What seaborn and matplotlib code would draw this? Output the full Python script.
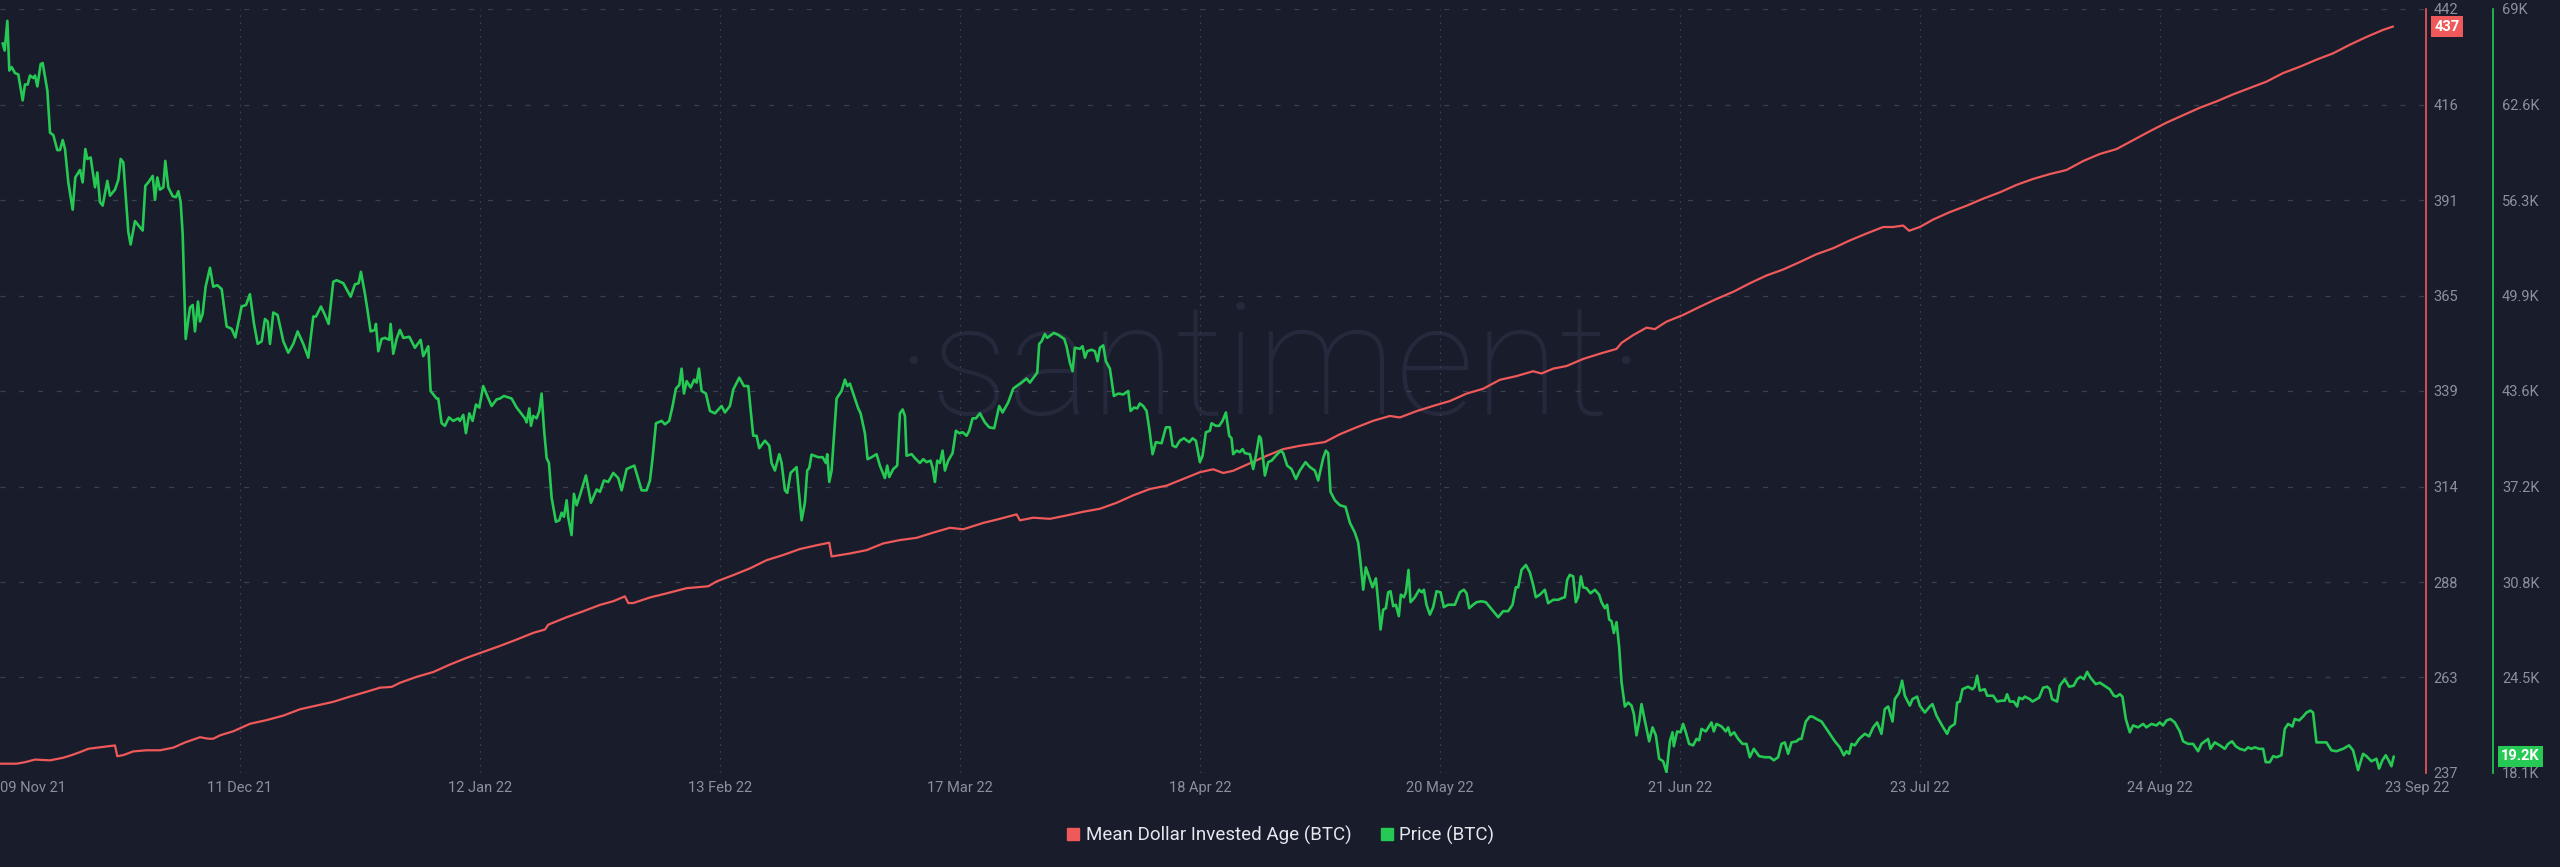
import numpy as np
import pandas as pd
import matplotlib
matplotlib.use("Agg")
import matplotlib.pyplot as plt
import seaborn as sns
from matplotlib.lines import Line2D

# ---------------- data ----------------
START = "2021-11-09"

price_day = [0.36, 0.62, 0.98, 1.24, 1.56, 2.0, 2.44, 3.02, 3.33, 3.69, 4.0, 4.44, 4.67, 4.98, 5.42, 5.69,
             6.31, 6.67, 7.11, 7.64, 8.0, 8.36, 8.67, 9.11, 9.69, 10.04, 10.67, 11.02, 11.38, 11.64, 12.09,
             12.67, 12.98, 13.33, 13.69, 14.31, 14.67, 15.33, 15.78, 16.09, 16.44, 17.11, 17.42, 18.0, 19.02,
             19.38, 19.78, 20.36, 20.67, 20.98, 21.33, 21.78, 22.04, 22.44, 23.02, 23.47, 23.78, 24.09, 24.36,
             24.76, 25.33, 25.69, 26.0, 26.4, 26.67, 27.02, 27.42, 28.0, 28.44, 28.98, 29.56, 30.22, 30.89,
             31.38, 32.22, 32.8, 33.33, 33.87, 34.36, 34.89, 35.33, 35.69, 36.0, 36.44, 37.02, 37.78, 38.44,
             39.11, 39.69, 40.44, 41.11, 41.78, 42.13, 42.8, 43.33, 43.82, 44.44, 44.89, 45.78, 46.76, 47.33,
             47.82, 48.13, 48.67, 48.98, 49.42, 50.0, 50.13, 50.44, 50.89, 51.33, 51.91, 52.09, 52.44, 52.89,
             53.33, 53.78, 54.58, 55.33, 56.09, 56.44, 57.11, 57.42, 58.22, 58.44, 58.89, 59.33, 59.87, 60.44,
             61.11, 61.33, 61.78, 62.13, 62.58, 63.02, 63.47, 63.91, 64.44, 64.98, 65.56, 66.22, 66.67, 67.2,
             68.22, 68.89, 70.0, 70.22, 70.58, 70.8, 71.11, 71.56, 71.91, 72.22, 72.53, 72.89, 73.2, 73.56,
             74.13, 74.58, 74.89, 75.2, 75.56, 75.78, 76.22, 76.53, 76.89, 77.33, 78.13, 78.8, 79.56, 80.0,
             80.53, 81.11, 81.78, 82.44, 82.89, 83.56, 84.58, 85.56, 86.22, 86.67, 87.02, 87.47, 88.22, 88.67,
             89.24, 89.69, 90.13, 90.58, 90.89, 91.2, 91.56, 92.09, 92.58, 92.89, 93.2, 93.56, 94.13, 94.67,
             95.33, 96.22, 96.67, 97.33, 97.78, 98.58, 99.2, 99.78, 100.44, 100.89, 101.24, 102.0, 102.58,
             102.89, 103.33, 103.91, 104.22, 104.67, 104.98, 105.42, 106.22, 106.44, 106.89, 107.33, 107.64,
             107.91, 108.22, 109.11, 109.69, 110.13, 110.31, 110.58, 110.89, 111.56, 112.22, 112.67, 112.98,
             113.33, 114.0, 114.44, 114.76, 115.33, 115.69, 116.22, 116.89, 117.33, 118.0, 118.31, 118.58,
             119.11, 119.64, 120.0, 120.36, 120.67, 120.89, 121.56, 122.0, 122.67, 123.11, 123.56, 124.09,
             124.36, 124.67, 124.98, 125.33, 125.69, 126.0, 126.44, 127.02, 127.47, 127.91, 128.36, 128.89,
             129.24, 129.69, 130.13, 130.67, 131.33, 131.91, 132.58, 133.24, 133.69, 134.44, 135.11, 135.56,
             136.22, 136.89, 137.33, 138.31, 138.58, 138.89, 139.33, 139.64, 140.53, 141.11, 141.91, 142.22,
             142.67, 143.02, 143.33, 144.0, 144.36, 144.67, 144.98, 145.56, 146.0, 146.36, 146.67, 147.11,
             147.47, 148.0, 148.53, 149.11, 149.78, 150.44, 150.76, 151.24, 151.64, 152.0, 152.44, 152.89,
             153.24, 153.69, 154.13, 154.89, 155.47, 156.0, 156.36, 156.8, 157.33, 157.87, 158.58, 159.02,
             159.47, 160.0, 160.36, 160.8, 161.33, 161.56, 162.13, 162.58, 163.02, 163.47, 163.91, 164.22,
             164.44, 164.89, 165.33, 165.69, 166.0, 166.67, 167.11, 167.47, 167.91, 168.13, 168.67, 169.11,
             169.56, 170.13, 170.8, 171.11, 171.64, 172.22, 172.8, 173.33, 174.09, 174.67, 175.33, 175.78,
             176.44, 176.8, 177.11, 177.42, 178.0, 178.67, 179.42, 180.0, 180.67, 181.11, 181.42, 181.78,
             182.13, 182.58, 183.02, 183.47, 183.78, 184.09, 184.44, 184.8, 185.11, 185.42, 185.78, 186.13,
             186.53, 186.8, 187.2, 187.47, 187.82, 188.09, 188.67, 189.24, 189.6, 189.87, 190.22, 190.67,
             191.11, 191.56, 192.09, 192.53, 193.11, 194.0, 194.67, 195.2, 195.56, 195.91, 196.44, 196.89,
             197.56, 198.13, 198.67, 199.11, 199.78, 200.44, 201.11, 201.69, 202.13, 202.44, 202.89, 203.47,
             204.0, 204.44, 204.8, 205.33, 206.0, 206.44, 207.11, 207.78, 208.22, 208.67, 208.98, 209.33,
             209.78, 210.13, 210.44, 210.8, 211.11, 211.56, 212.09, 212.67, 213.24, 213.56, 214.0, 214.31,
             214.58, 214.89, 215.2, 215.56, 215.91, 216.22, 216.67, 217.11, 217.56, 217.87, 218.22, 218.58,
             218.89, 219.33, 219.91, 220.36, 220.8, 221.24, 221.78, 222.22, 222.67, 223.02, 223.2, 223.64,
             224.09, 224.44, 224.8, 225.24, 225.78, 226.22, 226.58, 226.89, 227.47, 228.22, 228.53, 228.89,
             229.56, 230.13, 230.44, 230.76, 231.24, 231.78, 232.36, 232.89, 233.33, 233.87, 234.58, 235.33,
             236.0, 236.53, 237.11, 237.56, 238.0, 238.44, 238.89, 239.56, 239.91, 240.22, 240.8, 241.33,
             241.69, 242.22, 242.89, 243.56, 244.22, 244.67, 245.33, 245.87, 246.22, 246.58, 246.89, 247.33,
             247.91, 248.67, 249.24, 249.78, 250.31, 250.89, 251.33, 251.78, 252.36, 252.67, 253.24, 253.64,
             254.0, 254.67, 255.02, 255.64, 256.0, 256.67, 257.33, 257.69, 258.22, 258.67, 259.11, 259.64,
             260.0, 260.67, 260.98, 261.33, 261.69, 262.44, 263.02, 263.33, 263.64, 264.0, 264.67, 264.98,
             265.78, 266.31, 266.89, 267.33, 267.64, 268.0, 268.53, 268.98, 269.24, 269.69, 270.0, 270.67,
             271.02, 271.91, 272.44, 272.98, 273.33, 273.64, 274.31, 274.67, 275.33, 275.91, 276.53, 276.98,
             277.42, 277.87, 278.31, 278.76, 279.47, 280.0, 280.8, 281.33, 281.87, 282.22, 282.67, 283.02,
             283.47, 284.0, 284.44, 285.11, 285.78, 286.22, 286.89, 287.56, 288.0, 288.44, 288.89, 289.42,
             290.0, 290.67, 291.11, 291.78, 292.44, 293.11, 293.56, 294.44, 294.76, 295.33, 296.0, 296.67,
             297.11, 297.64, 298.13, 298.67, 299.33, 299.78, 300.22, 300.67, 301.24, 301.78, 302.13, 302.67,
             303.11, 303.56, 304.22, 304.67, 305.11, 305.69, 306.0, 306.58, 307.11, 307.56, 308.09, 308.44,
             308.89, 309.56, 310.22, 310.89, 311.56, 312.44, 313.24, 313.78, 314.44, 315.11, 315.56, 316.22,
             316.89, 317.24, 317.69, 318.13, 318.58, 318.89, 319.2]

price_k = [66.72, 66.23, 68.21, 64.9, 65.13, 64.73, 64.64, 62.91, 63.97, 63.97, 64.57, 64.4, 64.57, 63.84, 65.33,
           65.4, 63.58, 60.76, 60.6, 59.6, 59.6, 60.27, 59.67, 57.45, 55.63, 57.78, 58.28, 57.45, 59.67, 59.01,
           59.11, 57.12, 58.11, 56.13, 55.9, 57.55, 56.56, 56.96, 57.62, 59.01, 58.78, 54.14, 53.31, 54.87,
           54.24, 57.22, 57.45, 57.88, 56.29, 57.78, 56.96, 57.12, 58.88, 57.12, 56.53, 56.46, 56.86, 56.13,
           53.98, 47.02, 49.11, 49.28, 47.52, 49.51, 48.18, 48.68, 50.5, 51.76, 50.5, 50.6, 50.34, 47.85, 47.69,
           47.12, 49.18, 49.28, 50.0, 48.02, 46.69, 46.86, 48.35, 48.18, 46.69, 48.78, 48.61, 46.86, 46.1,
           46.69, 47.52, 46.69, 45.77, 48.51, 48.51, 49.18, 48.61, 48.02, 50.83, 50.93, 50.73, 49.83, 50.66,
           50.73, 51.49, 50.0, 49.01, 47.52, 47.62, 48.02, 46.2, 47.02, 47.09, 46.96, 48.02, 46.03, 47.02,
           47.62, 47.09, 47.16, 46.43, 46.96, 45.87, 46.53, 43.55, 43.05, 43.05, 41.4, 41.23, 41.79, 41.56,
           41.73, 41.56, 41.96, 40.74, 42.06, 41.56, 42.65, 42.45, 43.88, 43.22, 42.55, 42.99, 43.05, 43.22,
           43.05, 42.45, 41.73, 41.46, 42.39, 41.23, 41.89, 41.73, 42.22, 43.38, 41.07, 39.08, 38.75, 36.43,
           34.84, 34.94, 35.44, 35.17, 36.27, 35.11, 33.95, 36.7, 35.94, 36.6, 37.92, 36.1, 36.99, 36.83,
           37.59, 37.49, 38.09, 37.75, 36.93, 38.35, 38.58, 36.93, 36.93, 37.59, 39.08, 41.4, 41.56, 41.33,
           41.56, 42.55, 43.71, 43.95, 45.04, 43.38, 44.21, 43.78, 44.31, 44.11, 45.04, 43.55, 43.38, 42.22,
           42.06, 42.55, 42.12, 42.55, 43.65, 44.44, 43.88, 43.88, 40.57, 40.57, 39.74, 40.24, 39.91, 38.75,
           38.25, 39.34, 38.75, 36.93, 36.76, 38.09, 38.48, 37.26, 34.94, 36.1, 38.25, 38.42, 39.31, 39.14,
           39.14, 38.75, 39.34, 37.49, 38.25, 43.05, 43.55, 44.31, 43.88, 44.04, 43.05, 42.39, 42.06, 40.74,
           39.01, 39.14, 39.34, 38.58, 37.75, 38.58, 37.82, 38.35, 38.58, 42.06, 42.32, 41.89, 39.24, 39.34,
           39.08, 38.75, 39.01, 38.81, 38.91, 38.42, 37.49, 38.91, 38.75, 39.58, 38.25, 38.91, 39.41, 40.9,
           40.74, 40.8, 40.57, 40.9, 41.73, 41.73, 42.06, 41.46, 41.13, 41.07, 42.55, 42.12, 42.79, 43.71,
           43.88, 44.11, 44.38, 44.11, 44.77, 46.69, 46.86, 47.35, 47.09, 47.42, 47.29, 47.02, 46.53, 45.43,
           44.87, 46.43, 46.36, 46.53, 45.77, 46.2, 46.3, 46.2, 45.53, 46.43, 46.59, 45.53, 45.04, 43.22,
           43.38, 43.32, 43.55, 42.22, 42.45, 42.39, 42.72, 42.55, 42.22, 41.07, 39.34, 40.14, 40.07, 41.13,
           41.13, 39.91, 39.81, 40.24, 40.4, 40.14, 40.4, 40.24, 38.81, 39.24, 40.8, 40.9, 41.4, 41.23, 41.23,
           41.56, 42.12, 40.57, 40.4, 39.34, 39.58, 39.48, 39.68, 39.41, 39.34, 38.35, 39.24, 40.54, 40.4,
           37.92, 38.81, 38.91, 39.24, 39.58, 39.41, 38.58, 38.35, 37.69, 38.25, 38.81, 38.48, 38.25, 37.59,
           39.08, 39.58, 39.41, 36.83, 36.27, 35.94, 35.83, 34.78, 34.11, 33.45, 32.13, 30.31, 31.8, 31.14,
           30.47, 31.07, 29.48, 27.66, 28.98, 29.08, 30.14, 30.21, 29.21, 29.31, 28.55, 29.98, 29.81, 30.14,
           31.63, 29.48, 29.81, 30.31, 30.14, 30.31, 29.31, 28.65, 29.15, 30.21, 30.14, 29.15, 29.31, 29.31,
           30.14, 30.31, 30.07, 29.08, 29.31, 29.48, 29.54, 29.48, 29.15, 28.88, 28.48, 28.88, 28.88, 29.31,
           30.47, 30.47, 31.63, 31.96, 31.46, 30.64, 29.81, 29.98, 30.31, 29.41, 29.64, 29.64, 29.74, 29.81,
           30.97, 31.3, 31.2, 29.48, 29.81, 31.2, 30.47, 30.41, 30.07, 30.31, 29.98, 29.48, 29.08, 29.31,
           28.32, 28.22, 27.43, 28.15, 26.5, 24.18, 22.53, 22.79, 22.59, 22.03, 20.61, 21.54, 22.69, 21.6,
           20.21, 21.14, 20.61, 19.05, 18.88, 18.16, 20.21, 20.81, 19.88, 20.87, 20.81, 21.37, 20.81, 20.04,
           19.94, 20.37, 20.28, 21.04, 20.87, 21.47, 20.87, 21.37, 21.2, 20.87, 21.14, 20.61, 20.81, 20.37,
           20.04, 20.04, 19.15, 19.71, 19.22, 19.15, 19.15, 18.95, 19.15, 20.04, 20.14, 19.38, 20.14, 20.21,
           20.37, 20.37, 21.53, 21.86, 21.86, 21.7, 21.53, 21.04, 20.54, 20.21, 19.81, 19.28, 19.55, 19.38,
           20.04, 19.94, 20.37, 20.71, 20.54, 21.14, 21.47, 20.71, 22.36, 22.53, 21.53, 23.02, 23.45, 24.25,
           23.25, 22.59, 23.02, 23.19, 22.59, 22.13, 22.53, 22.69, 21.93, 21.53, 21.14, 20.71, 21.14, 21.37,
           22.79, 22.86, 23.68, 23.85, 23.68, 23.85, 24.58, 23.59, 23.68, 23.25, 23.25, 22.86, 22.92, 22.92,
           23.35, 22.86, 22.86, 22.53, 23.12, 23.02, 23.19, 23.02, 22.86, 23.12, 23.78, 23.85, 23.68, 23.02,
           22.86, 23.92, 24.35, 23.85, 23.92, 24.35, 24.51, 24.35, 24.84, 24.45, 24.02, 24.12, 23.85, 23.68,
           23.25, 23.19, 23.35, 23.19, 21.7, 20.81, 21.27, 21.14, 21.37, 21.14, 21.37, 21.27, 21.47, 21.27,
           21.6, 21.7, 21.47, 20.87, 20.21, 20.04, 20.04, 19.55, 20.04, 20.37, 19.71, 20.14, 19.94, 19.71,
           20.04, 20.21, 19.88, 19.71, 19.61, 19.81, 19.71, 19.81, 19.71, 19.71, 18.82, 18.82, 19.22, 19.15,
           19.28, 21.04, 21.37, 21.2, 21.7, 21.6, 21.86, 22.13, 22.26, 22.13, 20.14, 20.14, 20.14, 19.61,
           19.55, 19.71, 19.94, 19.61, 18.29, 19.38, 19.22, 18.88, 19.05, 18.39, 18.95, 19.28, 18.88, 18.55,
           19.2]

mdia_day = [0.0, 2.22, 3.33, 4.67, 6.67, 8.44, 9.56, 10.67, 11.78, 13.33, 15.33, 15.64, 16.44, 17.78, 19.56,
            21.33, 23.11, 24.67, 26.67, 27.78, 28.44, 29.33, 31.11, 33.33, 35.56, 37.78, 40.0, 42.22, 44.44,
            46.67, 48.89, 50.67, 52.22, 53.33, 55.56, 57.78, 60.0, 62.22, 64.44, 66.67, 68.89, 71.11, 72.67,
            73.11, 75.56, 77.78, 80.0, 81.78, 83.33, 83.78, 84.44, 86.67, 88.89, 91.56, 94.44, 95.56, 97.78,
            100.0, 102.22, 104.44, 106.67, 108.89, 110.58, 110.89, 113.33, 115.56, 117.78, 120.0, 122.22,
            124.44, 126.67, 128.44, 131.11, 133.33, 135.56, 136.0, 137.78, 140.0, 142.22, 144.44, 146.67,
            148.89, 151.11, 153.33, 155.56, 157.78, 160.0, 161.78, 163.11, 164.44, 166.67, 168.89, 171.11,
            173.33, 176.67, 178.67, 180.89, 183.11, 185.33, 186.67, 188.89, 191.11, 193.33, 195.56, 197.78,
            200.0, 202.22, 204.44, 205.56, 207.11, 208.89, 211.11, 213.33, 215.56, 216.22, 217.78, 219.56,
            220.67, 222.22, 224.44, 226.67, 228.89, 231.11, 233.33, 235.56, 237.78, 240.0, 242.22, 244.44,
            246.67, 248.89, 251.11, 252.44, 253.78, 254.58, 256.0, 257.78, 260.0, 262.22, 264.44, 266.67,
            268.89, 271.11, 273.33, 275.56, 277.78, 280.0, 282.22, 284.44, 286.67, 288.89, 291.11, 293.33,
            295.56, 297.78, 300.0, 302.22, 304.44, 306.67, 308.89, 311.11, 313.33, 315.56, 317.78, 319.11]

mdia_val = [239.5, 239.5, 239.9, 240.6, 240.4, 241.1, 241.8, 242.6, 243.5, 243.9, 244.4, 241.5, 241.8, 242.8,
            243.1, 243.1, 243.8, 245.2, 246.6, 246.2, 246.2, 247.1, 248.2, 250.2, 251.2, 252.4, 254.1, 255.1,
            256.1, 257.5, 258.8, 259.9, 260.1, 261.2, 262.8, 264.1, 266.1, 267.9, 269.5, 271.1, 272.8, 274.6,
            275.5, 276.8, 278.8, 280.4, 282.1, 283.1, 284.4, 282.6, 282.6, 284.1, 285.2, 286.6, 287.1, 288.4,
            290.1, 291.9, 294.1, 295.5, 297.1, 298.1, 298.8, 295.1, 295.9, 296.8, 298.6, 299.5, 300.1, 301.5,
            302.8, 302.4, 304.1, 305.2, 306.4, 304.8, 305.5, 305.2, 306.1, 307.1, 307.9, 309.5, 311.5, 313.2,
            314.1, 315.9, 317.7, 318.5, 317.5, 318.1, 320.1, 322.1, 323.9, 324.8, 325.8, 327.9, 329.75, 331.5,
            332.8, 332.4, 334.1, 335.5, 336.8, 338.8, 340.1, 342.5, 343.5, 344.8, 344.2, 345.5, 346.2, 348.1,
            349.5, 350.8, 352.4, 354.5, 356.5, 356.1, 358.1, 359.9, 362.1, 364.2, 366.1, 368.4, 370.5, 372.1,
            374.1, 376.2, 377.8, 379.9, 381.75, 383.5, 383.5, 383.9, 382.5, 383.5, 385.5, 387.5, 389.2, 391.1,
            392.8, 394.8, 396.4, 397.7, 398.8, 401.2, 403.1, 404.4, 406.8, 409.2, 411.5, 413.5, 415.5, 417.2,
            419.1, 420.8, 422.5, 424.8, 426.5, 428.4, 430.1, 432.4, 434.5, 436.4, 437.3]

tick_dates = ["2021-11-09", "2021-12-11", "2022-01-12", "2022-02-13", "2022-03-17", "2022-04-18",
              "2022-05-20", "2022-06-21", "2022-07-23", "2022-08-24", "2022-09-23"]
tick_labels = ["09 Nov 21", "11 Dec 21", "12 Jan 22", "13 Feb 22", "17 Mar 22", "18 Apr 22",
               "20 May 22", "21 Jun 22", "23 Jul 22", "24 Aug 22", "23 Sep 22"]
mdia_range = [237, 442]
mdia_tick_labels = ["237", "263", "288", "314", "339", "365", "391", "416", "442"]
price_range = [18.1, 69.0]
price_tick_labels = ["18.1K", "24.5K", "30.8K", "37.2K", "43.6K", "49.9K", "56.3K", "62.6K", "69K"]
series_names = ["Mean Dollar Invested Age (BTC)", "Price (BTC)"]

# ---------------- style ----------------
BG = "#191c2b"
GRID = "#3a3f52"
TICK = "#8b90a0"
RED = "#ef5959"
GREEN = "#26c953"

sns.set_theme(style="dark")
plt.rcParams["font.family"] = ["Roboto", "DejaVu Sans"]

start = pd.Timestamp(START)
df_price = pd.DataFrame({"date": start + pd.to_timedelta(np.array(price_day), unit="D"),
                         "value": price_k})
df_mdia = pd.DataFrame({"date": start + pd.to_timedelta(np.array(mdia_day), unit="D"),
                        "value": mdia_val})

W, H = 2560, 867
fig = plt.figure(figsize=(W / 100, H / 100), dpi=100, facecolor=BG)
ax_left, ax_right, ax_top, ax_bottom = 0, 2426, 9, 773
ax = fig.add_axes([ax_left / W, 1 - ax_bottom / H, (ax_right - ax_left) / W, (ax_bottom - ax_top) / H])
ax.set_facecolor(BG)
ax2 = ax.twinx()

sns.lineplot(data=df_mdia, x="date", y="value", ax=ax, color=RED, linewidth=1.6, estimator=None, sort=True)
sns.lineplot(data=df_price, x="date", y="value", ax=ax2, color=GREEN, linewidth=1.9, estimator=None, sort=True)

for a in (ax, ax2):
    a.set_xlabel("")
    a.set_ylabel("")
    for s in a.spines.values():
        s.set_visible(False)

ax.set_xlim(start, start + pd.Timedelta(days=323.5))
ax.set_ylim(*mdia_range)
ax2.set_ylim(*price_range)

# y axes
ax.yaxis.tick_right()
ax.set_yticks(np.linspace(mdia_range[0], mdia_range[1], len(mdia_tick_labels)))
ax.set_yticklabels(mdia_tick_labels)
ax2.set_yticks(np.linspace(price_range[0], price_range[1], len(price_tick_labels)))
ax2.set_yticklabels(price_tick_labels)
ax.spines["right"].set_visible(True)
ax.spines["right"].set_color(RED)
ax.spines["right"].set_linewidth(1.2)
ax2.spines["right"].set_visible(True)
ax2.spines["right"].set_color(GREEN)
ax2.spines["right"].set_linewidth(1.2)
ax2.spines["right"].set_position(("outward", 67 * 0.72))
ax.tick_params(axis="y", length=0, pad=5.5, labelsize=10.5, labelcolor=TICK, left=False, right=False)
ax2.tick_params(axis="y", length=0, pad=6.5, labelsize=10.5, labelcolor=TICK)

# x axis
ax.set_xticks(pd.to_datetime(tick_dates))
ax.set_xticklabels(tick_labels)
ax.tick_params(axis="x", length=0, pad=6, labelsize=10.5, labelcolor=TICK)
xt = ax.get_xticklabels()
xt[0].set_ha("left")
xt[-1].set_ha("left")

# grid
ax.grid(axis="y", color=GRID, linestyle=(0, (4, 11)), linewidth=0.9)
ax.grid(axis="x", color=GRID, linestyle=(0, (1.5, 4)), linewidth=0.9)
ax2.grid(False)
gl = ax.xaxis.get_gridlines()
gl[0].set_visible(False)
gl[-1].set_visible(False)

# watermark
ax.text(1270 / W, 1 - 372 / H, "·santiment·", transform=fig.transFigure, ha="center", va="center",
        fontsize=112, color="#25293b", family=["Roboto", "DejaVu Sans"], fontweight="light", zorder=0.5)

# last-value badges
ax.text(1.0035, mdia_val[-1], f"{mdia_val[-1]:.0f}", transform=ax.get_yaxis_transform(),
        ha="left", va="center", color="white", fontsize=10.5, fontweight="bold", clip_on=False,
        bbox=dict(boxstyle="square,pad=0.25", fc=RED, ec="none"))
ax2.text(1.031, price_k[-1], f"{price_k[-1]:.1f}K", transform=ax2.get_yaxis_transform(),
         ha="left", va="center", color="white", fontsize=10.5, fontweight="bold", clip_on=False,
         bbox=dict(boxstyle="square,pad=0.25", fc=GREEN, ec="none"))

# legend
handles = [Line2D([], [], marker="s", color=RED, linestyle="none", markersize=8.5),
           Line2D([], [], marker="s", color=GREEN, linestyle="none", markersize=8.5)]
fig.legend(handles=handles, labels=series_names, loc="center", bbox_to_anchor=(0.5, 1 - 835 / H),
           ncol=2, frameon=False, fontsize=13.5, labelcolor="#e6e7ee", handletextpad=0.25,
           columnspacing=1.5, handlelength=0.8)

fig.savefig("out.png", dpi=100, facecolor=BG)
